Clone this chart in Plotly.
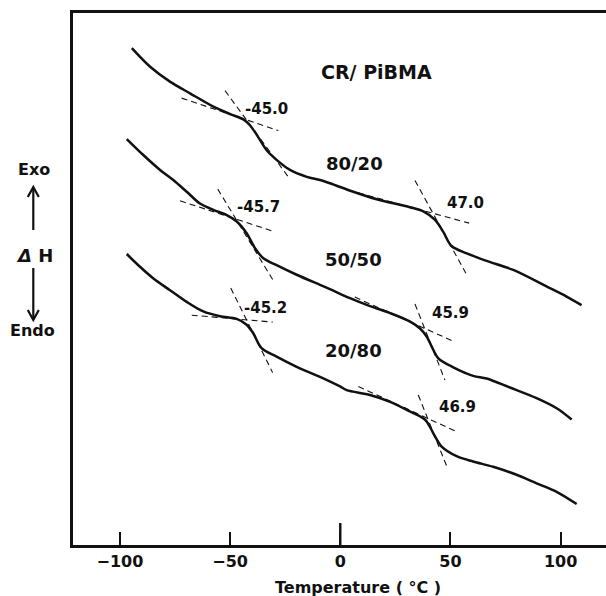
import plotly.graph_objects as go

# DSC traces of CR/PiBMA blends (heat flow in arbitrary units, offset vertically)
temp_80_20 = [-94.6, -86.3, -77.3, -68.2, -57.6, -50.0, -44.0, -41.0, -37.9, -33.4, -28.9,
              -22.8, -15.2, -9.2, -4.7, 5.9, 16.5, 31.6, 37.7, 43.0, 46.7, 50.5, 57.4,
              66.4, 78.5, 93.6, 102.7, 109.5]
heat_80_20 = [9.34, 8.99, 8.71, 8.49, 8.24, 8.10, 8.00, 7.89, 7.71, 7.42, 7.24,
              7.05, 6.92, 6.86, 6.80, 6.64, 6.50, 6.35, 6.27, 6.11, 5.89, 5.62, 5.48,
              5.34, 5.17, 4.86, 4.67, 4.51]

temp_50_50 = [-96.9, -89.4, -81.8, -75.8, -69.7, -63.7, -57.6, -51.5, -47.0, -42.5, -38.7,
              -34.9, -28.9, -19.8, -9.2, -4.7, 4.4, 13.5, 22.6, 31.7, 36.2, 39.2, 41.5,
              44.5, 51.3, 60.3, 66.4, 77.0, 89.1, 98.2, 105.0]
heat_50_50 = [7.63, 7.33, 7.05, 6.86, 6.64, 6.42, 6.30, 6.20, 6.08, 5.86, 5.58,
              5.39, 5.26, 5.08, 4.89, 4.81, 4.64, 4.49, 4.36, 4.20, 4.07, 3.92, 3.73,
              3.51, 3.34, 3.18, 3.13, 2.96, 2.76, 2.57, 2.36]

temp_20_80 = [-96.9, -90.9, -84.8, -77.3, -69.7, -62.2, -54.6, -47.0, -42.5, -39.5, -35.7,
              -28.9, -19.8, -9.2, -0.1, 2.9, 13.5, 22.6, 30.1, 38.4, 40.7, 43.0, 46.0,
              52.8, 60.3, 69.4, 80.0, 89.1, 98.2, 107.3]
heat_20_80 = [5.47, 5.23, 5.01, 4.79, 4.57, 4.39, 4.30, 4.25, 4.14, 3.98, 3.70,
              3.54, 3.35, 3.16, 2.98, 2.91, 2.82, 2.69, 2.54, 2.36, 2.22, 2.04, 1.85,
              1.67, 1.57, 1.47, 1.32, 1.16, 1.00, 0.77]

# Tangent constructions used to locate each Tg: (x0, y0, x1, y1)
tangents = [
    (-72.0, 8.40, -28.1, 7.79), (-52.3, 8.54, -23.6, 6.92),
    (8.0, 6.62, 58.5, 6.05), (33.9, 6.85, 57.0, 5.11),
    (-72.7, 6.47, -30.7, 5.90), (-55.6, 6.69, -30.7, 4.99),
    (6.6, 4.66, 51.3, 3.83), (33.9, 4.53, 47.5, 3.10),
    (-67.4, 4.32, -30.7, 4.19), (-49.7, 4.83, -30.7, 3.24),
    (8.2, 2.98, 52.8, 2.13), (35.4, 2.82, 48.5, 1.46),
]

# Tg values and where they are written
tg_labels = ["-45.0", "47.0", "-45.7", "45.9", "-45.2", "46.9"]
tg_x = [-44.0, 47.5, -47.8, 40.7, -44.7, 43.7]
tg_y = [8.20, 6.43, 6.35, 4.36, 4.46, 2.59]

blend_labels = ["80/20", "50/50", "20/80"]
blend_x = [6.5, 5.9, 6.0]
blend_y = [7.17, 5.36, 3.65]

x_ticks = [-100, -50, 0, 50, 100]

FONT = "DejaVu Sans"
INK = "#111111"

fig = go.Figure()

for tx, hy in [(temp_80_20, heat_80_20), (temp_50_50, heat_50_50), (temp_20_80, heat_20_80)]:
    fig.add_trace(go.Scatter(x=tx, y=hy, mode="lines",
                             line=dict(color=INK, width=2.5, shape="spline", smoothing=0.9),
                             hoverinfo="skip"))

for x0, y0, x1, y1 in tangents:
    fig.add_trace(go.Scatter(x=[x0, x1], y=[y0, y1], mode="lines",
                             line=dict(color=INK, width=1.1, dash="6px,4px"),
                             hoverinfo="skip"))

annotations = []
for txt, x, y in zip(tg_labels, tg_x, tg_y):
    annotations.append(dict(x=x, y=y, xref="x", yref="y", text=txt, showarrow=False,
                            xanchor="left", yanchor="middle",
                            font=dict(family=FONT, size=15, color=INK, weight="bold")))
for txt, x, y in zip(blend_labels, blend_x, blend_y):
    annotations.append(dict(x=x, y=y, xref="x", yref="y", text=txt, showarrow=False,
                            xanchor="center", yanchor="middle",
                            font=dict(family=FONT, size=18, color=INK, weight="bold")))
annotations.append(dict(x=16.6, y=8.90, xref="x", yref="y", text="CR/ PiBMA", showarrow=False,
                        xanchor="center", yanchor="middle",
                        font=dict(family=FONT, size=19, color=INK, weight="bold")))

# page layout in pixels
W, H = 606, 596
ML, MR, MT, MB = 73, 0, 13, 51
PW, PH = W - ML - MR, H - MT - MB


def px(xpix):
    return (xpix - ML) / PW


def py(ypix):
    return (H - MB - ypix) / PH


side = dict(family=FONT, color=INK, weight="bold")
annotations += [
    dict(x=px(33.7), y=py(169.5), xref="paper", yref="paper", text="Exo", showarrow=False,
         xanchor="center", yanchor="middle", font=dict(size=16, **side)),
    dict(x=px(34.0), y=py(255), xref="paper", yref="paper", text="<i>Δ</i> H", showarrow=False,
         xanchor="center", yanchor="middle", font=dict(size=18, **side)),
    dict(x=px(32.2), y=py(330), xref="paper", yref="paper", text="Endo", showarrow=False,
         xanchor="center", yanchor="middle", font=dict(size=16, **side)),
    dict(x=px(357.5), y=py(587.5), xref="paper", yref="paper", text="Temperature ( °C )",
         showarrow=False, xanchor="center", yanchor="middle", font=dict(size=16, **side)),
]

shapes = []
ax_x = px(33.3)
# upward arrow (Exo)
shapes.append(dict(type="line", xref="paper", yref="paper", x0=ax_x, x1=ax_x,
                   y0=py(230), y1=py(188), line=dict(color=INK, width=2.2)))
shapes.append(dict(type="path", xref="paper", yref="paper",
                   path=f"M {px(27.8)} {py(197)} L {ax_x} {py(187)} L {px(38.8)} {py(197)}",
                   line=dict(color=INK, width=2.2)))
# downward arrow (Endo)
shapes.append(dict(type="line", xref="paper", yref="paper", x0=ax_x, x1=ax_x,
                   y0=py(268), y1=py(319), line=dict(color=INK, width=2.2)))
shapes.append(dict(type="path", xref="paper", yref="paper",
                   path=f"M {px(27.8)} {py(310)} L {ax_x} {py(320)} L {px(38.8)} {py(310)}",
                   line=dict(color=INK, width=2.2)))
# longer tick at 0 °C
shapes.append(dict(type="line", xref="x", yref="paper", x0=0, x1=0, y0=0, y1=22 / PH,
                   line=dict(color=INK, width=2.4)))

fig.update_layout(
    width=W, height=H,
    margin=dict(l=ML, r=MR, t=MT, b=MB),
    paper_bgcolor="white", plot_bgcolor="white",
    showlegend=False,
    annotations=annotations,
    shapes=shapes,
    xaxis=dict(range=[-121.3, 120.6], tickmode="array", tickvals=x_ticks,
               ticks="inside", ticklen=13, tickwidth=2.4, tickcolor=INK,
               showline=True, linecolor=INK, linewidth=3, mirror=True,
               showgrid=False, zeroline=False, ticklabelstandoff=0,
               tickfont=dict(family=FONT, size=16, color=INK, weight="bold")),
    yaxis=dict(range=[0, 10], showticklabels=False, ticks="",
               showline=True, linecolor=INK, linewidth=3, mirror=False,
               showgrid=False, zeroline=False),
)

fig.write_html("out.html")
